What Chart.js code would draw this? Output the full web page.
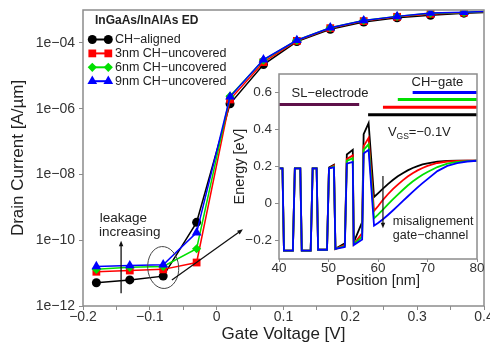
<!DOCTYPE html>
<html>
<head>
<meta charset="utf-8">
<script src="https://cdn.jsdelivr.net/npm/chart.js@4.4.1/dist/chart.umd.min.js"></script>
<style>
  html, body { margin: 0; padding: 0; background: #fff; }
  #wrap { position: relative; width: 490px; height: 347px; overflow: hidden; }
  #main { position: absolute; left: 0; top: 0; }
  #inset { position: absolute; left: 222px; top: 68px; }
</style>
</head>
<body>
<div id="wrap">
  <canvas id="main" width="490" height="347"></canvas>
  <canvas id="inset" width="263" height="226"></canvas>
</div>
<script>
// ---- main plot: drain current vs gate voltage ----
const gateV = [-0.18, -0.13, -0.08, -0.03, 0.02, 0.07, 0.12, 0.17, 0.22, 0.27, 0.32, 0.37, 0.42];
const idAligned = [5.1e-12, 6.2e-12, 8.1e-12, 3.5e-10, 1.4e-6, 2.2e-5, 1.1e-4, 2.6e-4, 4.3e-4, 5.8e-4, 6.9e-4, 8.0e-4, 8.7e-4];
const id3nm     = [1.1e-11, 1.2e-11, 1.3e-11, 2.1e-11, 1.9e-6, 2.6e-5, 1.15e-4, 2.8e-4, 4.6e-4, 6.2e-4, 7.6e-4, 8.3e-4, 9.1e-4];
const id6nm     = [1.3e-11, 1.5e-11, 1.6e-11, 5.5e-11, 2.4e-6, 3.0e-5, 1.2e-4, 2.9e-4, 4.8e-4, 6.4e-4, 8.0e-4, 8.4e-4, 9.3e-4];
const id9nm     = [1.6e-11, 1.7e-11, 1.8e-11, 1.7e-10, 2.3e-6, 3.1e-5, 1.2e-4, 2.9e-4, 4.8e-4, 6.4e-4, 8.1e-4, 8.5e-4, 9.3e-4];
const seriesNames = ['CH\u2212aligned', '3nm CH\u2212uncovered', '6nm CH\u2212uncovered', '9nm CH\u2212uncovered'];
const legendTitle = 'InGaAs/InAlAs ED';

const xTickVals = [-0.2, -0.15, -0.1, -0.05, 0, 0.05, 0.1, 0.15, 0.2, 0.25, 0.3, 0.35, 0.4];
const xTickLabels = ['\u22120.2', '', '\u22120.1', '', '0', '', '0.1', '', '0.2', '', '0.3', '', '0.4'];
const yTickVals = [1e-12, 1e-10, 1e-8, 1e-6, 1e-4];
const yTickLabels = ['1e\u221212', '1e\u221210', '1e\u221208', '1e\u221206', '1e\u221204'];

// ---- inset: band energy vs position ----
const posNm = [40, 40.7, 41.0, 42.8, 43.2, 44.3, 44.6, 46.4, 46.8, 47.6, 47.9, 49.7,
  50.1, 51.1, 51.4, 53.3, 53.7, 54.9, 55.1, 56.8, 57.1, 58.1, 59.2,
  60, 61, 62, 63, 64, 65, 66, 67, 68, 69, 70, 72, 74, 76, 78, 80];
const bandAligned = [0.19, 0.19, -0.255, -0.255, 0.19, 0.19, -0.255, -0.255, 0.19, 0.19, -0.25, -0.25,
  0.195, 0.21, -0.245, -0.215, 0.265, 0.29, -0.21, -0.10, 0.375, 0.435, 0.035,
  0.055, 0.08, 0.105, 0.127, 0.147, 0.164, 0.179, 0.192, 0.202, 0.211, 0.217, 0.226, 0.23, 0.231, 0.231, 0.231];
const band3nm = [0.19, 0.19, -0.255, -0.255, 0.19, 0.19, -0.255, -0.255, 0.19, 0.19, -0.25, -0.25,
  0.19, 0.205, -0.245, -0.225, 0.24, 0.26, -0.22, -0.16, 0.31, 0.355, -0.04,
  -0.015, 0.02, 0.05, 0.078, 0.102, 0.125, 0.146, 0.164, 0.179, 0.192, 0.203, 0.219, 0.227, 0.23, 0.231, 0.231];
const band6nm = [0.19, 0.19, -0.255, -0.255, 0.19, 0.19, -0.255, -0.255, 0.19, 0.19, -0.25, -0.25,
  0.19, 0.2, -0.245, -0.23, 0.23, 0.245, -0.22, -0.18, 0.29, 0.32, -0.08,
  -0.06, -0.033, -0.005, 0.022, 0.048, 0.073, 0.097, 0.119, 0.138, 0.155, 0.17, 0.197, 0.215, 0.225, 0.229, 0.231];
const band9nm = [0.19, 0.19, -0.255, -0.255, 0.19, 0.19, -0.255, -0.255, 0.19, 0.19, -0.25, -0.25,
  0.19, 0.195, -0.245, -0.235, 0.215, 0.225, -0.225, -0.195, 0.27, 0.29, -0.12,
  -0.105, -0.085, -0.062, -0.038, -0.013, 0.013, 0.038, 0.063, 0.087, 0.11, 0.132, 0.175, 0.203, 0.218, 0.227, 0.231];
// SL-electrode and CH-gate extents (nm) and the level they are drawn at (eV)
const slElectrodeNm = [40, 56.2];
const slElectrodeEv = 0.535;
const gateStartNm = [58.0, 61.0, 64.0, 67.0];
const gateEndNm = 80;
const gateLevelEv = [0.48, 0.52, 0.562, 0.6];
const insetXTicks = [40, 50, 60, 70, 80];
const insetYTicks = [-0.2, 0, 0.2, 0.4, 0.6];
const insetYLabels = ['\u22120.2', '0', '0.2', '0.4', '0.6'];

const FONT = "'Liberation Sans', Arial, Helvetica, sans-serif";
Chart.defaults.font.family = FONT;
const colors = ['#000000', '#ff0000', '#00e000', '#0000ff'];
const markers = ['circle', 'rect', 'rectRot', 'triangle'];
const markerSize = [4.5, 5.5, 4.6, 5.6];
const frameColor = '#8c8c8c';

function drawArrow(ctx, x1, y1, x2, y2, head) {
  const a = Math.atan2(y2 - y1, x2 - x1);
  ctx.beginPath();
  ctx.moveTo(x1, y1);
  ctx.lineTo(x2 - Math.cos(a) * head * 0.7, y2 - Math.sin(a) * head * 0.7);
  ctx.stroke();
  ctx.beginPath();
  ctx.moveTo(x2, y2);
  ctx.lineTo(x2 - head * Math.cos(a - 0.38), y2 - head * Math.sin(a - 0.38));
  ctx.lineTo(x2 - head * Math.cos(a + 0.38), y2 - head * Math.sin(a + 0.38));
  ctx.closePath();
  ctx.fill();
}

function drawMarker(ctx, style, r, x, y) {
  if (Chart.helpers && Chart.helpers.drawPoint) {
    Chart.helpers.drawPoint(ctx, {pointStyle: style, radius: r, rotation: 0, borderWidth: 0}, x, y);
  } else {
    ctx.beginPath(); ctx.arc(x, y, r, 0, Math.PI * 2); ctx.fill();
  }
}

const framePlugin = {
  id: 'frame',
  afterDraw(chart) {
    const {ctx, chartArea: a} = chart;
    ctx.save();
    ctx.strokeStyle = frameColor;
    ctx.lineWidth = 1.5;
    ctx.strokeRect(a.left, a.top, a.right - a.left, a.bottom - a.top);
    ctx.restore();
  }
};

const mainNotes = {
  id: 'mainNotes',
  afterDraw(chart) {
    const {ctx} = chart;
    const xs = chart.scales.x, ys = chart.scales.y;
    ctx.save();
    // legend
    ctx.fillStyle = '#222';
    ctx.font = 'bold 12px ' + FONT;
    ctx.textBaseline = 'middle';
    ctx.fillText(legendTitle, 95, 21);
    seriesNames.forEach((name, i) => {
      const y = 39.5 + i * 13.9;
      ctx.strokeStyle = colors[i];
      ctx.fillStyle = colors[i];
      ctx.lineWidth = 2;
      ctx.beginPath(); ctx.moveTo(92, y); ctx.lineTo(108.5, y); ctx.stroke();
      drawMarker(ctx, markers[i], markerSize[i], 92.3, y);
      drawMarker(ctx, markers[i], markerSize[i], 108.3, y);
      ctx.fillStyle = '#222';
      ctx.font = '12.5px ' + FONT;
      ctx.fillText(name, 115, y + 0.5);
    });
    // ellipse around the off-state points
    ctx.strokeStyle = '#444';
    ctx.lineWidth = 1;
    ctx.beginPath();
    ctx.ellipse(xs.getPixelForValue(-0.08), ys.getPixelForValue(1.48e-11), 15.5, 21, -0.08, 0, Math.PI * 2);
    ctx.stroke();
    // arrows
    ctx.strokeStyle = '#111';
    ctx.fillStyle = '#111';
    ctx.lineWidth = 1.3;
    drawArrow(ctx, xs.getPixelForValue(-0.143), ys.getPixelForValue(2.45e-12),
      xs.getPixelForValue(-0.143), ys.getPixelForValue(9.7e-11), 6);
    drawArrow(ctx, xs.getPixelForValue(-0.067), ys.getPixelForValue(6.2e-12),
      xs.getPixelForValue(0.0393), ys.getPixelForValue(2.14e-10), 6);
    // text
    ctx.fillStyle = '#222';
    ctx.font = '13.5px ' + FONT;
    ctx.textAlign = 'left';
    ctx.fillText('leakage', xs.getPixelForValue(-0.175), ys.getPixelForValue(4.7e-10));
    ctx.fillText('increasing', xs.getPixelForValue(-0.176), ys.getPixelForValue(1.7e-10));
    ctx.restore();
  }
};

const ivSeries = [idAligned, id3nm, id6nm, id9nm];
new Chart(document.getElementById('main'), {
  type: 'line',
  data: {
    datasets: ivSeries.map((vals, i) => ({
      label: seriesNames[i],
      data: gateV.map((v, k) => ({x: v, y: vals[k]})),
      borderColor: colors[i],
      backgroundColor: colors[i],
      borderWidth: 1.5,
      pointStyle: markers[i],
      pointRadius: markerSize[i],
      pointBorderWidth: 0,
      pointBackgroundColor: colors[i],
      tension: 0,
      order: 3 - i
    }))
  },
  options: {
    responsive: false,
    animation: false,
    devicePixelRatio: 1,
    layout: {padding: {left: 0, right: 6, top: 10, bottom: 0}},
    plugins: {legend: {display: false}, tooltip: {enabled: false}},
    scales: {
      x: {
        type: 'linear', min: -0.2, max: 0.4,
        afterBuildTicks: s => { s.ticks = xTickVals.map(v => ({value: v})); },
        afterFit: s => { s.height = 41; s.paddingLeft = 0; s.paddingRight = 0; },
        ticks: {autoSkip: false, maxRotation: 0, padding: 0, color: '#333',
          font: {size: 14, lineHeight: 1}, callback: (v, i) => xTickLabels[i]},
        grid: {drawOnChartArea: false, drawTicks: true, tickLength: 4, color: frameColor},
        border: {display: false},
        title: {display: true, text: 'Gate Voltage [V]', color: '#222', font: {size: 17}, padding: {top: 0, bottom: 2}}
      },
      y: {
        type: 'logarithmic', min: 1e-12, max: 1e-3,
        afterBuildTicks: s => { s.ticks = yTickVals.map(v => ({value: v})); },
        afterFit: s => { s.width = 83; s.paddingTop = 0; s.paddingBottom = 0; },
        ticks: {autoSkip: false, padding: 4, color: '#333', font: {size: 14, lineHeight: 1},
          callback: (v, i) => yTickLabels[i]},
        grid: {drawOnChartArea: false, drawTicks: true, tickLength: 4, color: frameColor},
        border: {display: false},
        title: {display: true, text: 'Drain Current [A/\u00b5m]', color: '#222', font: {size: 17}, padding: {top: 8, bottom: 0}}
      }
    }
  },
  plugins: [framePlugin, mainNotes]
});

// ---- inset ----
const insetNotes = {
  id: 'insetNotes',
  afterDraw(chart) {
    const {ctx} = chart;
    const xs = chart.scales.x, ys = chart.scales.y;
    ctx.save();
    ctx.fillStyle = '#222';
    ctx.textBaseline = 'middle';
    ctx.font = '13px ' + FONT;
    ctx.textAlign = 'center';
    ctx.fillText('SL\u2212electrode', xs.getPixelForValue(50.3), ys.getPixelForValue(0.595));
    ctx.fillText('CH\u2212gate', xs.getPixelForValue(72.0), ys.getPixelForValue(0.655));
    ctx.textAlign = 'left';
    let x = xs.getPixelForValue(62.0);
    const y = ys.getPixelForValue(0.385);
    ctx.fillText('V', x, y);
    x += ctx.measureText('V').width;
    ctx.font = '8.5px ' + FONT;
    ctx.fillText('GS', x, y + 4);
    x += ctx.measureText('GS').width;
    ctx.font = '13px ' + FONT;
    ctx.fillText('=\u22120.1V', x, y);
    ctx.font = '12.5px ' + FONT;
    ctx.fillText('misalignement', xs.getPixelForValue(63.0), ys.getPixelForValue(-0.097));
    ctx.fillText('gate\u2212channel', xs.getPixelForValue(63.0), ys.getPixelForValue(-0.171));
    ctx.strokeStyle = '#111';
    ctx.fillStyle = '#111';
    ctx.lineWidth = 1.2;
    drawArrow(ctx, xs.getPixelForValue(61), ys.getPixelForValue(0.148),
      xs.getPixelForValue(61), ys.getPixelForValue(-0.134), 6);
    ctx.restore();
  }
};

const bandSeries = [bandAligned, band3nm, band6nm, band9nm];
const insetSets = bandSeries.map((vals, i) => ({
  data: posNm.map((p, k) => ({x: p, y: vals[k]})),
  borderColor: colors[i], borderWidth: 1.8, pointRadius: 0, tension: 0, order: 3 - i
}));
gateStartNm.forEach((s, i) => {
  insetSets.push({
    data: [{x: s, y: gateLevelEv[i]}, {x: gateEndNm, y: gateLevelEv[i]}],
    borderColor: colors[i], borderWidth: 3, pointRadius: 0, order: 10
  });
});
insetSets.push({
  data: slElectrodeNm.map(p => ({x: p, y: slElectrodeEv})),
  borderColor: '#5e1049', borderWidth: 3, pointRadius: 0, order: 10
});

new Chart(document.getElementById('inset'), {
  type: 'line',
  data: {datasets: insetSets},
  options: {
    responsive: false,
    animation: false,
    devicePixelRatio: 1,
    layout: {padding: {left: 0, right: 8, top: 6, bottom: 0}},
    plugins: {legend: {display: false}, tooltip: {enabled: false}},
    scales: {
      x: {
        type: 'linear', min: 40, max: 80,
        afterBuildTicks: s => { s.ticks = insetXTicks.map(v => ({value: v})); },
        afterFit: s => { s.height = 35; s.paddingLeft = 0; s.paddingRight = 0; },
        ticks: {autoSkip: false, maxRotation: 0, padding: 0, color: '#333', font: {size: 13.5, lineHeight: 1}},
        grid: {drawOnChartArea: false, drawTicks: true, tickLength: 3, color: frameColor},
        border: {display: false},
        title: {display: true, text: 'Position [nm]', color: '#222', font: {size: 14.5}, padding: {top: 0, bottom: 4}}
      },
      y: {
        type: 'linear', min: -0.3, max: 0.7,
        afterBuildTicks: s => { s.ticks = insetYTicks.map(v => ({value: v})); },
        afterFit: s => { s.width = 57; s.paddingTop = 0; s.paddingBottom = 0; },
        ticks: {autoSkip: false, padding: 3, color: '#333', font: {size: 13.5, lineHeight: 1},
          callback: (v, i) => insetYLabels[i]},
        grid: {drawOnChartArea: false, drawTicks: true, tickLength: 4, color: frameColor},
        border: {display: false},
        title: {display: true, text: 'Energy [eV]', color: '#222', font: {size: 14.5}, padding: {top: 9, bottom: 0}}
      }
    }
  },
  plugins: [framePlugin, insetNotes]
});
</script>
</body>
</html>
